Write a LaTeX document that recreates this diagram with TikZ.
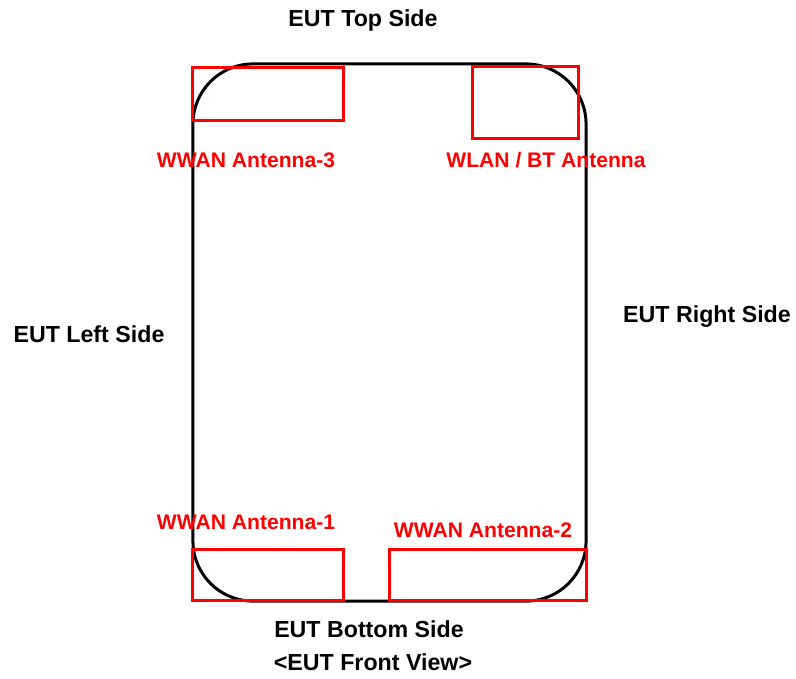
\documentclass[tikz,border=0pt]{standalone}
\usepackage{fontspec}
\setmainfont{Liberation Sans}
\usepackage{xcolor}
\usepackage{tikz}
\usetikzlibrary{calc}

\definecolor{antred}{rgb}{1.000000,0.000000,0.000000}
\tikzset{
  sidelabel/.style={font=\fontsize{16.5}{18}\selectfont\bfseries, text=black, inner sep=0pt},
  antlabel/.style={font=\fontsize{15}{17}\selectfont\bfseries, text=antred, inner sep=0pt},
  antbox/.style={draw=antred, line width=0.075cm, inner sep=0pt},
  eutbody/.style={draw=black, line width=0.075cm, rounded corners=1.5cm, inner sep=0pt}
}

\begin{document}
\begin{tikzpicture}[x=0.025cm, y=-0.025cm]
                        \useasboundingbox (0,0) rectangle (796,678);

                        % Drawing EUT outline
                        \node [eutbody, minimum width=9.825cm, minimum height=13.425cm] (body) at (389.5,332.5) {};%

                        % Drawing antenna boxes
                        \node [antbox, minimum width=3.750cm, minimum height=1.300cm] (ant3) at (268.0,94.0) {};%
                        \node [antbox, minimum width=2.625cm, minimum height=1.775cm] (wlan) at (525.5,102.5) {};%
                        \node [antbox, minimum width=3.750cm, minimum height=1.275cm] (ant1) at (268.0,574.5) {};%
                        \node [antbox, minimum width=4.900cm, minimum height=1.275cm] (ant2) at (488.0,574.5) {};%

                        % Antenna labels
                        \node [antlabel] (ant3lbl) at (246,160) {WWAN Antenna-3};%
                        \node [antlabel] (wlanlbl) at (546,160) {WLAN / BT Antenna};%
                        \node [antlabel] (ant1lbl) at (246,522) {WWAN Antenna-1};%
                        \node [antlabel] (ant2lbl) at (483,530) {WWAN Antenna-2};%

                        % Side labels
                        \node [sidelabel] (toplbl) at (363,20) {EUT Top Side};%
                        \node [sidelabel] (leftlbl) at (89,334) {EUT Left Side};%
                        \node [sidelabel] (rightlbl) at (707,317) {EUT Right Side};%
                        \node [sidelabel] (botlbl) at (369,629) {EUT Bottom Side};%
                        \node [sidelabel] (viewlbl) at (373,662) {<EUT Front View>};%
\end{tikzpicture}
\end{document}
